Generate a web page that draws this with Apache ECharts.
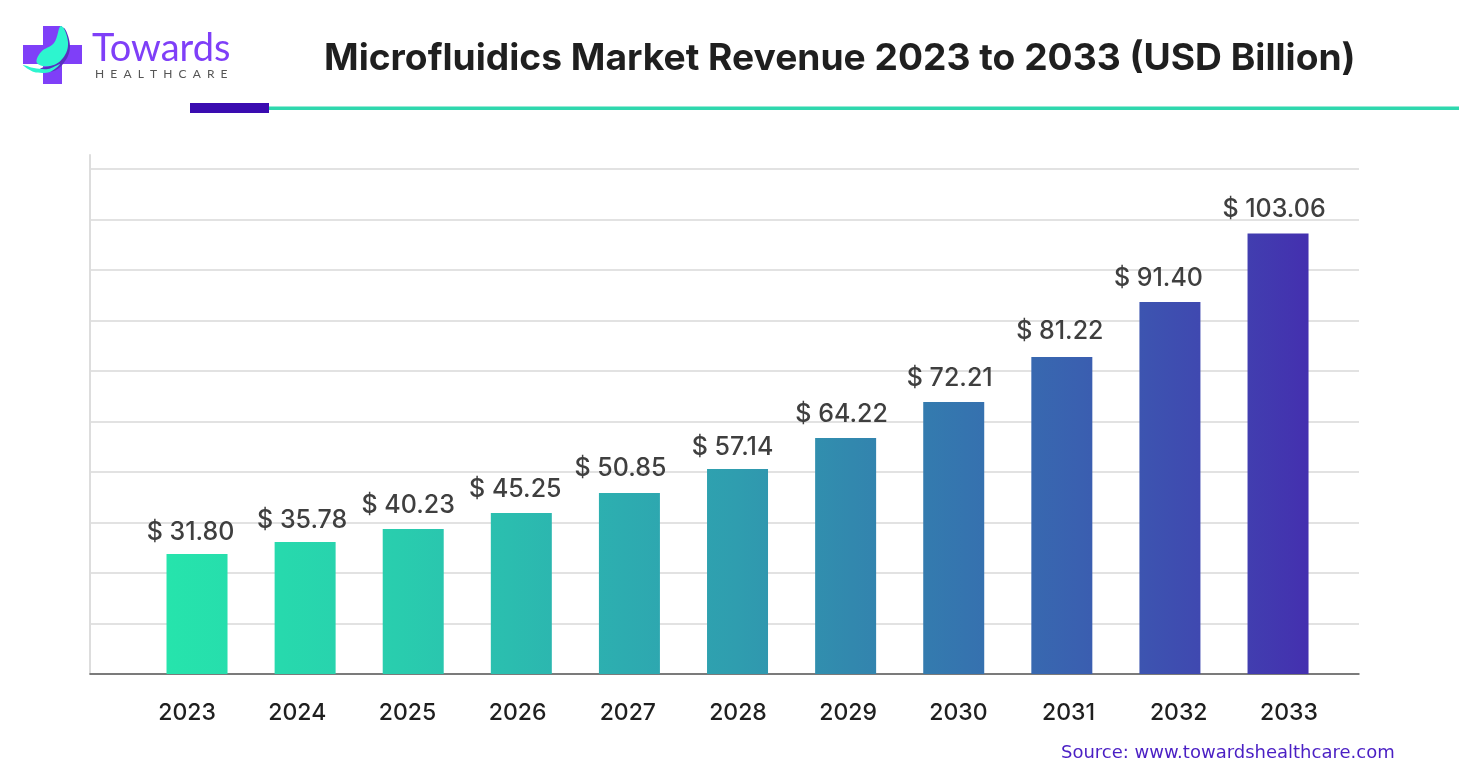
<!DOCTYPE html>
<html>
<head>
<meta charset="utf-8">
<title>Microfluidics Market Revenue</title>
<script src="https://cdn.jsdelivr.net/npm/echarts@6/dist/echarts.min.js"></script>
<style>
  html, body { margin: 0; padding: 0; background: #fff; }
  #chart { width: 1459px; height: 783px; }
</style>
</head>
<body>
<div id="chart"></div>
<script>
const years = [2023, 2024, 2025, 2026, 2027, 2028, 2029, 2030, 2031, 2032, 2033]
const yearLabels = ['2023', '2024', '2025', '2026', '2027', '2028', '2029', '2030', '2031', '2032', '2033']
// printed revenue, USD billion
const revenue = [31.80, 35.78, 40.23, 45.25, 50.85, 57.14, 64.22, 72.21, 81.22, 91.40, 103.06]
// the drawn bars are not proportional to the printed numbers, so heights are
// read separately, in % of the unlabelled gridline scale
const barLevels = [23.76, 26.14, 28.71, 31.88, 35.84, 40.59, 46.73, 53.86, 62.77, 73.66, 87.23]
const barColors = ['#26E4AC', '#27D9AD', '#29CDAE', '#2BBDAF', '#2DACB0', '#2F9DAF', '#3288AE', '#3574AF', '#3A60B0', '#3F4AB0', '#4430AF']
// hand placed labels in the original, [dx, dy] from the default spot
const labelNudges = [[-6.5, 0], [-3, 0], [-5, -2], [-6, -2], [-9, -3], [-5, 0], [-4, -2], [-4, -2], [-2, -4], [-11.5, -2], [-4, -2]]

const FONT = 'Inter, "Liberation Sans", sans-serif'

const chart = echarts.init(document.getElementById('chart'))

const barFill = new echarts.graphic.LinearGradient(
    167, 0, 1308, 0,
    barColors.map((color, i) => ({ offset: i / (barColors.length - 1), color })),
    true
)

chart.setOption({
    animation: false,
    backgroundColor: '#fff',
    title: {
        text: 'Microfluidics Market Revenue 2023 to 2033 (USD Billion)',
        left: 324,
        top: 40,
        padding: 0,
        textStyle: { fontFamily: FONT, fontSize: 37.2, fontWeight: 700, color: '#1f1f1f' },
    },
    grid: [
        // plot frame and bars
        { left: 90, width: 1269, top: 155, height: 519 },
        // year labels sit on a slightly wider spacing than the bars
        { left: 132, width: 1212, top: 155, height: 519 },
    ],
    xAxis: [
        {
            type: 'value',
            gridIndex: 0,
            min: 2022.01,
            max: 2033.749,
            axisLine: { show: true, onZero: false, lineStyle: { color: '#5a5a5a', width: 1.5 } },
            axisTick: { show: false },
            axisLabel: { show: false },
            splitLine: { show: false },
        },
        {
            type: 'category',
            gridIndex: 1,
            data: yearLabels,
            axisLine: { show: false },
            axisTick: { show: false },
            axisLabel: { margin: 28, fontFamily: FONT, fontSize: 23, fontWeight: 500, color: '#1f1f1f' },
        },
    ],
    yAxis: [
        {
            type: 'value',
            gridIndex: 0,
            min: 0,
            max: 102.77,
            interval: 10,
            axisLine: { show: true, lineStyle: { color: '#ddd', width: 2 } },
            axisTick: { show: false },
            axisLabel: { show: false },
            splitLine: { show: true, showMaxLine: false, lineStyle: { color: '#e2e2e2', width: 2 } },
        },
        {
            type: 'value',
            gridIndex: 1,
            min: 0,
            max: 100,
            show: false,
        },
    ],
    series: [
        {
            type: 'bar',
            xAxisIndex: 0,
            yAxisIndex: 0,
            barWidth: 61,
            itemStyle: { color: barFill },
            data: years.map((year, i) => ({
                value: [year, barLevels[i]],
                label: {
                    show: true,
                    position: 'top',
                    distance: 9,
                    offset: labelNudges[i],
                    formatter: '$ ' + revenue[i].toFixed(2),
                    fontFamily: FONT,
                    fontSize: 25,
                    fontWeight: 500,
                    color: '#3f3f3f',
                },
            })),
        },
    ],
    graphic: [
        // header rule
        { type: 'rect', shape: { x: 269, y: 106.5, width: 1190, height: 3.5 }, style: { fill: '#2FD8AE' } },
        { type: 'rect', shape: { x: 190, y: 103, width: 79, height: 10 }, style: { fill: '#3A0CB0' } },
        // logo
        { type: 'rect', shape: { x: 43, y: 26, width: 19, height: 58 }, style: { fill: '#7F3FF8' } },
        { type: 'rect', shape: { x: 23, y: 45, width: 59, height: 19 }, style: { fill: '#7F3FF8' } },
        { type: 'polygon', shape: { points: [[63, 28], [70, 46], [63, 64], [50, 72], [40, 69], [56, 62]], smooth: 0.4 }, style: { fill: '#5A2FC0' } },
        { type: 'polygon', shape: { points: [[61, 26], [68, 42], [63, 58], [50, 66], [37, 63], [41, 52], [54, 43]], smooth: 0.4 }, style: { fill: '#2DF5CF' } },
        { type: 'polygon', shape: { points: [[23, 65], [34, 68], [48, 69], [60, 64], [50, 72], [34, 72]], smooth: 0.3 }, style: { fill: '#2DF5CF' } },
        {
            type: 'text',
            x: 92,
            y: 30,
            style: { text: 'Towards', fontFamily: 'Lato, sans-serif', fontSize: 38, fill: '#7F3FF8' },
        },
        {
            type: 'text',
            x: 95,
            y: 68,
            style: { text: 'H  E  A  L  T  H  C  A  R  E', fontFamily: 'Lato, sans-serif', fontSize: 12, fill: '#555' },
        },
        // source
        {
            type: 'text',
            x: 1061,
            y: 744,
            style: { text: 'Source: www.towardshealthcare.com', fontFamily: '"DejaVu Sans", sans-serif', fontSize: 18, fill: '#4A1FC4' },
        },
    ],
})

window.addEventListener('resize', () => chart.resize())
</script>
</body>
</html>
